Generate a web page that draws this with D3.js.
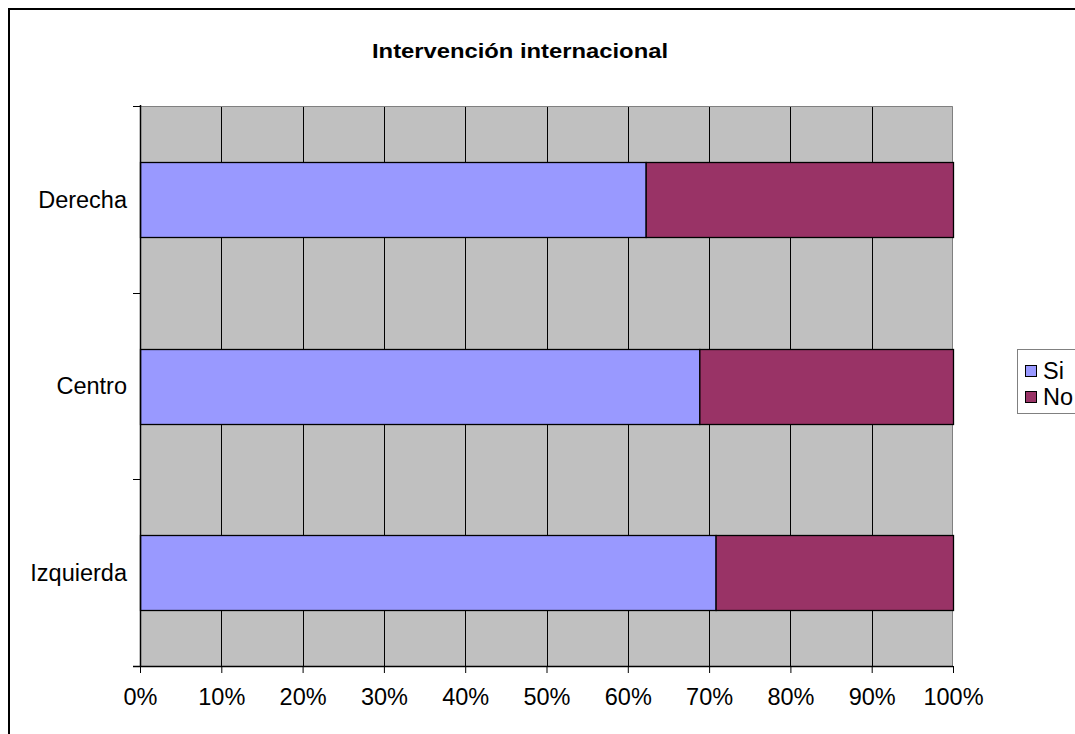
<!DOCTYPE html>
<html>
<head>
<meta charset="utf-8">
<script src="https://cdn.jsdelivr.net/npm/d3@7"></script>
<style>
  html, body { margin: 0; padding: 0; background: #fff; overflow: hidden; }
  svg { display: block; font-family: Arial, "Liberation Sans", sans-serif; }
</style>
</head>
<body>
<svg id="chart" width="1075" height="734"></svg>
<script>
const categories = ["Derecha", "Centro", "Izquierda"];
const seriesNames = ["Si", "No"];
const siValues = [62.2, 68.8, 70.8];
const noValues = [37.8, 31.2, 29.2];
const xTicks = [0, 10, 20, 30, 40, 50, 60, 70, 80, 90, 100];
const title = "Intervención internacional";
const colors = ["#9999FF", "#993366"];

const svg = d3.select("#chart");

// outer chart border (extends beyond the visible window)
svg.append("rect")
  .attr("x", 9).attr("y", 9)
  .attr("width", 1200).attr("height", 800)
  .attr("fill", "#fff").attr("stroke", "#000").attr("stroke-width", 2);

const plot = { left: 140, top: 106, right: 953, bottom: 666 };

const x = d3.scaleLinear().domain([0, 100]).range([plot.left, plot.right]);
const y = d3.scaleBand().domain(categories).range([plot.top, plot.bottom]).paddingInner(0.6).paddingOuter(0.3);
const yOuter = d3.scaleBand().domain(categories).range([plot.top, plot.bottom]);

// plot background
svg.append("rect")
  .attr("x", plot.left).attr("y", plot.top)
  .attr("width", plot.right - plot.left).attr("height", plot.bottom - plot.top)
  .attr("fill", "#C0C0C0");

// gridlines
svg.append("g").selectAll("line").data(xTicks.slice(1, -1)).join("line")
  .attr("x1", d => Math.round(x(d)) + 0.5).attr("x2", d => Math.round(x(d)) + 0.5)
  .attr("y1", plot.top).attr("y2", plot.bottom)
  .attr("stroke", "#000").attr("stroke-width", 1);

// plot area border top / right
svg.append("path")
  .attr("d", `M${plot.left},${plot.top + 0.5}H${plot.right - 0.5}V${plot.bottom}`)
  .attr("fill", "none").attr("stroke", "#808080").attr("stroke-width", 1);

// stacked bars
const stackData = categories.map((c, i) => ({ cat: c, Si: siValues[i], No: noValues[i] }));
const stack = d3.stack().keys(seriesNames)(stackData);
svg.append("g").selectAll("g").data(stack).join("g")
  .attr("fill", (d, i) => colors[i])
  .selectAll("rect").data(d => d).join("rect")
  .attr("x", d => x(d[0]) + 0.5)
  .attr("y", d => Math.round(y(d.data.cat)) + 0.5)
  .attr("width", d => x(d[1]) - x(d[0]))
  .attr("height", Math.round(y.bandwidth()))
  .attr("stroke", "#000").attr("stroke-width", 1.3);

// y axis
const yAxisG = svg.append("g").attr("transform", `translate(${plot.left},0)`);
yAxisG.append("line")
  .attr("x1", 0.5).attr("x2", 0.5).attr("y1", plot.top - 1).attr("y2", plot.bottom)
  .attr("stroke", "#000").attr("stroke-width", 1.5);
const yBoundaries = categories.map(c => yOuter(c)).concat([plot.bottom]);
yAxisG.selectAll("line.tick").data(yBoundaries).join("line").attr("class", "tick")
  .attr("x1", -7).attr("x2", 0)
  .attr("y1", d => Math.round(d) + 0.5).attr("y2", d => Math.round(d) + 0.5)
  .attr("stroke", "#000");
yAxisG.selectAll("text").data(categories).join("text")
  .attr("x", -13)
  .attr("y", d => yOuter(d) + yOuter.bandwidth() / 2)
  .attr("dy", "0.35em")
  .attr("text-anchor", "end")
  .attr("font-size", 23.5)
  .text(d => d);

// x axis
const xAxis = d3.axisBottom(x).tickValues(xTicks).tickFormat(d => d + "%").tickSize(7).tickPadding(15);
const xAxisG = svg.append("g").attr("transform", `translate(0,${plot.bottom})`).call(xAxis);
xAxisG.select(".domain").remove();
xAxisG.append("line")
  .attr("x1", plot.left - 7).attr("x2", plot.right).attr("y1", 0.5).attr("y2", 0.5)
  .attr("stroke", "#000").attr("stroke-width", 1.5);
xAxisG.selectAll(".tick line").attr("stroke", "#000");
xAxisG.selectAll(".tick text")
  .attr("font-size", 23.5).attr("font-family", "Arial, 'Liberation Sans', sans-serif").attr("fill", "#000");

// title
svg.append("text")
  .attr("x", 520).attr("y", 58)
  .attr("text-anchor", "middle")
  .attr("font-weight", "bold")
  .attr("font-size", 21)
  .attr("textLength", 296)
  .attr("lengthAdjust", "spacingAndGlyphs")
  .text(title);

// legend
const legend = svg.append("g").attr("transform", "translate(1017,349)");
legend.append("rect")
  .attr("x", 0.5).attr("y", 0.5).attr("width", 120).attr("height", 64)
  .attr("fill", "#fff").attr("stroke", "#808080");
const items = legend.selectAll("g").data(seriesNames).join("g")
  .attr("transform", (d, i) => `translate(0,${22 + i * 26})`);
items.append("rect")
  .attr("x", 8.5).attr("y", -5.5).attr("width", 11).attr("height", 11)
  .attr("fill", (d, i) => colors[i]).attr("stroke", "#000");
items.append("text")
  .attr("x", 26).attr("y", 0).attr("dy", "0.35em")
  .attr("font-size", 23.5)
  .text(d => d);
</script>
</body>
</html>
